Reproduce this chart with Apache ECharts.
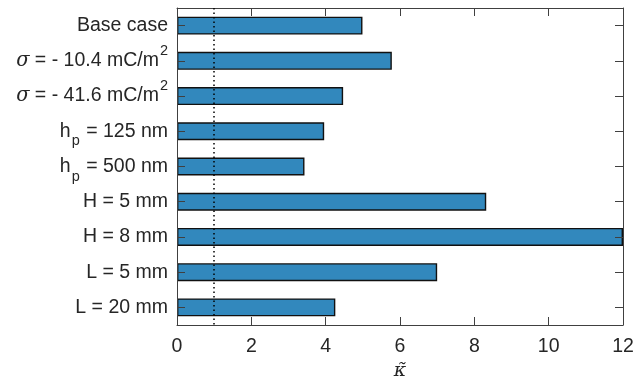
<!DOCTYPE html>
<html>
<head>
<meta charset="utf-8">
<script src="https://cdn.jsdelivr.net/npm/echarts@6/dist/echarts.min.js"></script>
<style>html,body{margin:0;padding:0;background:#fff;}#c{width:635px;height:385px;}</style>
</head>
<body>
<div id="c"></div>
<script>
// Categories (top to bottom)
var categories = ['Base case', 'sigma -10.4', 'sigma -41.6', 'hp 125', 'hp 500', 'H 5', 'H 8', 'L 5', 'L 20'];
// Tick labels (rich text markup)
var tickLabels = [
  'Base case',
  '{i|σ} = - 10.4 mC/m{sup|2}',
  '{i|σ} = - 41.6 mC/m{sup|2}',
  'h{sub|p} = 125 nm',
  'h{sub|p} = 500 nm',
  'H = 5 mm',
  'H = 8 mm',
  'L = 5 mm',
  'L = 20 mm'
];
// Values of kappa-tilde
var values = [4.99, 5.78, 4.47, 3.96, 3.43, 8.32, 12.0, 7.0, 4.26];
var xTicks = [0, 2, 4, 6, 8, 10, 12];
var refLine = 1;

var txt = '#262626';
var axc = '#404040';
var fs = 19.5;
function tickStyle(extra) {
  var t = {show: true, inside: true, length: 8, lineStyle: {color: axc, width: 1}};
  if (extra) t.alignWithLabel = true;
  return t;
}
var line = {show: true, onZero: false, lineStyle: {color: axc, width: 1}};
var chart = echarts.init(document.getElementById('c'));
chart.setOption({
  animation: false,
  grid: {left: 177, right: 12, top: 8, bottom: 60, outerBoundsMode: 'none'},
  xAxis: [{
    type: 'value', min: xTicks[0], max: xTicks[xTicks.length - 1], interval: 2,
    position: 'bottom', z: 5,
    axisLine: line,
    axisTick: tickStyle(false),
    axisLabel: {color: txt, fontSize: fs, fontFamily: 'Liberation Sans', margin: 12},
    splitLine: {show: false},
    name: 'κ̃', nameLocation: 'middle', nameGap: 36,
    nameTextStyle: {color: txt, fontSize: 19, fontFamily: 'DejaVu Serif', fontStyle: 'italic'}
  }, {
    type: 'value', min: xTicks[0], max: xTicks[xTicks.length - 1], interval: 2,
    position: 'top', z: 5,
    axisLine: line,
    axisTick: tickStyle(false),
    axisLabel: {show: false},
    splitLine: {show: false}
  }],
  yAxis: [{
    type: 'category', data: categories, inverse: true, position: 'left', z: 5,
    axisLine: line,
    axisTick: tickStyle(true),
    axisLabel: {
      color: txt, fontSize: fs, fontFamily: 'Liberation Sans', margin: 9,
      formatter: function (v, i) { return tickLabels[i]; },
      rich: {
        i: {fontSize: fs, fontFamily: 'DejaVu Serif', fontStyle: 'italic', color: txt},
        sup: {fontSize: 14.5, fontFamily: 'Liberation Sans', color: txt, padding: [0, 0, 20, 1]},
        sub: {fontSize: 14.5, fontFamily: 'Liberation Sans', color: txt, padding: [20, 1, 0, 1]}
      }
    },
    splitLine: {show: false}
  }, {
    type: 'category', data: categories, inverse: true, position: 'right', z: 5,
    axisLine: line,
    axisTick: tickStyle(true),
    axisLabel: {show: false},
    splitLine: {show: false}
  }],
  series: [{
    type: 'bar', data: values, xAxisIndex: 0, yAxisIndex: 0,
    barWidth: '51%',
    itemStyle: {color: '#3288BD', borderColor: '#111', borderWidth: 1.4},
    markLine: {
      silent: true, symbol: 'none', z: 10,
      label: {show: false},
      lineStyle: {type: [1.5, 3], color: '#000', width: 1.5},
      data: [{xAxis: refLine}]
    }
  }]
});
</script>
</body>
</html>
